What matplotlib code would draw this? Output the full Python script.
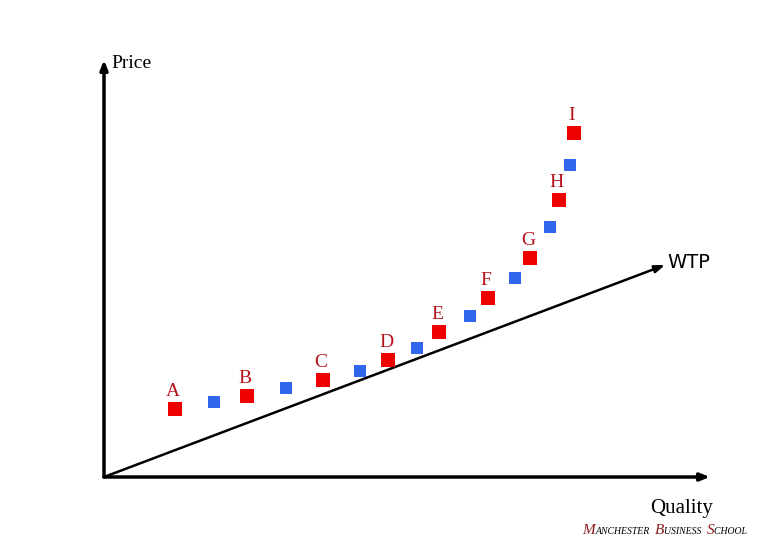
import matplotlib.pyplot as plt
from matplotlib.offsetbox import TextArea, HPacker, AnchoredOffsetbox

# quality / price of the products (origin of the axes = 0, 0)
labels = ['A', 'B', 'C', 'D', 'E', 'F', 'G', 'H', 'I']
red_quality = [71, 143, 219, 284, 335, 384, 426, 455, 470]
red_price = [68, 81, 97, 117, 145, 179, 219, 277, 344]
blue_quality = [110, 182, 256, 313, 366, 411, 446, 466]
blue_price = [75, 89, 106, 129, 161, 199, 250, 312]
wtp_end = (561, 212)

serif = ['Liberation Serif', 'DejaVu Serif']
label_col = '#b5121b'

fig = plt.figure(figsize=(7.8, 5.4), dpi=100)
ax = fig.add_axes([0, 0, 1, 1])
ax.set_xlim(-104, 676)
ax.set_ylim(-63, 477)
ax.axis('off')

# axes with arrow heads
arrow = dict(arrowstyle='-|>,head_length=0.55,head_width=0.22', color='black', lw=2.5, shrinkA=0, shrinkB=0)
ax.annotate('', xy=(606, 0), xytext=(0, 0), arrowprops=arrow)
ax.annotate('', xy=(0, 417), xytext=(0, 0), arrowprops=arrow)

# WTP line
ax.annotate('', xy=wtp_end, xytext=(0, 0),
            arrowprops=dict(arrowstyle='-|>,head_length=0.6,head_width=0.22', color='black', lw=1.8,
                            shrinkA=0, shrinkB=0))
ax.text(wtp_end[0] + 2, wtp_end[1] + 3, 'WTP', fontsize=14, family='DejaVu Sans', va='center', ha='left')

ax.scatter(blue_quality, blue_price, marker='s', s=80, color='#3366ee', lw=0, zorder=3)
ax.scatter(red_quality, red_price, marker='s', s=90, color='#ee0000', lw=0, zorder=3)
for q, p, lab in zip(red_quality, red_price, labels):
    ax.text(q - 2, p + 9, lab, fontsize=14, family=serif, color=label_col, ha='center', va='bottom')

ax.text(7, 413, 'Price', fontsize=14, family=serif, ha='left', va='center')
ax.text(578, -31, 'Quality', fontsize=15, family=serif, ha='center', va='center')

# small caps footer
parts = []
for word in ['Manchester', 'Business', 'School']:
    big = TextArea(word[0], textprops=dict(fontsize=11, family=serif, style='italic', color='#8b1a1a'))
    small = TextArea(word[1:].upper() + ' ', textprops=dict(fontsize=7, family=serif, style='italic'))
    parts.append(HPacker(children=[big, small], align='baseline', pad=0, sep=0))
footer = HPacker(children=parts, align='baseline', pad=0, sep=2)
box = AnchoredOffsetbox(loc='center', child=footer, frameon=False,
                        bbox_to_anchor=(666 / 780, 1 - 531 / 540), bbox_transform=fig.transFigure)
fig.add_artist(box)

fig.savefig('out.png', dpi=100)
